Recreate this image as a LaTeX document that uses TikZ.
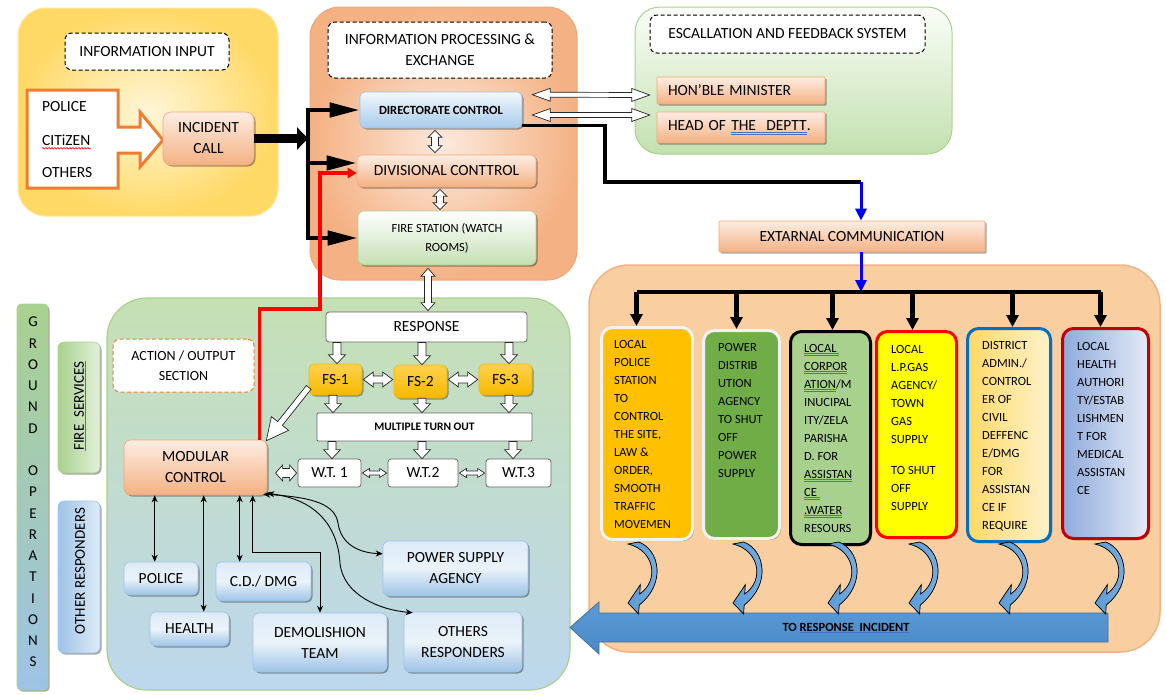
\documentclass[tikz,border=0pt]{standalone}
\usepackage{fontspec}
\setmainfont{Carlito}
\usetikzlibrary{calc,arrows.meta,shadows,decorations.pathmorphing}
\definecolor{ulblue}{HTML}{4472C4}
\definecolor{inLight}{HTML}{FFF6D9}
\definecolor{inDark}{HTML}{FFD966}
\definecolor{inEdge}{HTML}{FFE699}
\definecolor{prLight}{HTML}{FCE9DC}
\definecolor{prDark}{HTML}{F4B183}
\definecolor{prEdge}{HTML}{EFA77A}
\definecolor{esLight}{HTML}{FAFDF8}
\definecolor{esDark}{HTML}{C3E0AE}
\definecolor{grEdge}{HTML}{A9D18E}
\definecolor{orLight}{HTML}{FDEDE3}
\definecolor{orDark}{HTML}{F4B183}
\definecolor{orEdge}{HTML}{F1A878}
\definecolor{dirLight}{HTML}{F2F7FC}
\definecolor{dirDark}{HTML}{A8CBEB}
\definecolor{blEdge}{HTML}{9DC3E6}
\definecolor{gbDark}{HTML}{C5E0B4}
\definecolor{fsLight}{HTML}{FFD24D}
\definecolor{fsDark}{HTML}{F5B800}
\definecolor{rpFill}{HTML}{F9CFA2}
\definecolor{rpEdge}{HTML}{F4B183}
\definecolor{actTop}{HTML}{C5E0B4}
\definecolor{actBot}{HTML}{BDD7EE}
\definecolor{gsTop}{HTML}{A9D18E}
\definecolor{gsBot}{HTML}{9DC3E6}
\definecolor{arrOr}{HTML}{ED7D31}
\definecolor{cvBlue}{HTML}{5B9BD5}
\definecolor{cvLight}{HTML}{7FB2E3}
\definecolor{baTop}{HTML}{5B9BD5}
\definecolor{baMid}{HTML}{86B4E3}
\definecolor{baBot}{HTML}{4A88C8}
\definecolor{baEdge}{HTML}{41719C}
\definecolor{bOne}{HTML}{FFC000}
\definecolor{bTwo}{HTML}{70AD47}
\definecolor{bThree}{HTML}{A9D18E}
\definecolor{bFour}{HTML}{FFFF00}
\definecolor{bFourEdge}{HTML}{FF0000}
\definecolor{bFiveEdge}{HTML}{0070C0}
\definecolor{bFiveA}{HTML}{FFD966}
\definecolor{bFiveB}{HTML}{FFF2CC}
\definecolor{bSixEdge}{HTML}{C00000}
\definecolor{bSixA}{HTML}{8FAADC}
\definecolor{bSixB}{HTML}{E4EAF6}
\definecolor{boxWhite}{HTML}{F2F2F2}
\definecolor{bbTop}{HTML}{DDEBF7}
\definecolor{bbBot}{HTML}{9DC3E6}
\definecolor{fsvA}{HTML}{A9D18E}
\definecolor{fsvB}{HTML}{E2F0D9}
\definecolor{orA}{HTML}{9DC3E6}
\definecolor{orB}{HTML}{DEEBF7}

\newcommand\bul[1]{{\color{ulblue}$\underline{\hbox{\color{black}#1}}$}}
\newcommand\bbul[1]{{\color{ulblue}$\underline{\underline{\hbox{\color{black}#1}}}$}}

% hollow single arrow: from, to, shaft half width, head half width, head length
\newcommand\hollowarr[5]{%
  \coordinate (hA) at (#1);
  \coordinate (hB) at (#2);
  \coordinate (hC) at ($(hB)!#5!(hA)$);
  \filldraw[hollow] ($(hA)!#3!90:(hB)$) -- ($(hC)!#3!-90:(hA)$) -- ($(hC)!#4!-90:(hA)$) -- (hB)
    -- ($(hC)!#4!90:(hA)$) -- ($(hC)!#3!90:(hA)$) -- ($(hA)!#3!-90:(hB)$) -- cycle;}
% hollow double arrow
\newcommand\hollowdarr[5]{%
  \coordinate (hA) at (#1);
  \coordinate (hB) at (#2);
  \coordinate (hCa) at ($(hA)!#5!(hB)$);
  \coordinate (hCb) at ($(hB)!#5!(hA)$);
  \filldraw[hollow] (hA) -- ($(hCa)!#4!90:(hB)$) -- ($(hCa)!#3!90:(hB)$) -- ($(hCb)!#3!-90:(hA)$)
    -- ($(hCb)!#4!-90:(hA)$) -- (hB) -- ($(hCb)!#4!90:(hA)$) -- ($(hCb)!#3!90:(hA)$)
    -- ($(hCa)!#3!-90:(hB)$) -- ($(hCa)!#4!-90:(hB)$) -- cycle;}

\tikzset{
  shadowed/.style={drop shadow={shadow xshift=1.5pt,shadow yshift=-1.5pt,opacity=0.35,fill=black}},
  panel/.style={rounded corners=#1, inner sep=0pt, line width=1pt},
  hdr/.style={draw=black, dash pattern=on 4pt off 2.5pt, line width=1pt, rounded corners=7pt, fill=white, align=center, inner sep=0pt},
  obox/.style={draw=orEdge, line width=0.6pt, rounded corners=5pt, top color=orLight, bottom color=orDark, shadowed, align=center, inner sep=0pt},
  dirbox/.style={draw=blEdge, line width=0.6pt, rounded corners=5pt, top color=dirLight, bottom color=dirDark, shadowed, align=center, inner sep=0pt},
  gbox/.style={draw=grEdge, line width=0.6pt, rounded corners=6pt, top color=white, bottom color=gbDark, shadowed, align=center, inner sep=0pt},
  bbox/.style={draw=blEdge, line width=0.6pt, rounded corners=6pt, top color=bbTop, bottom color=bbBot, middle color=bbTop!60!white, shadowed, align=center, inner sep=0pt},
  wbox/.style={draw=black!60, fill=white, line width=0.8pt, rounded corners=3pt, inner sep=0pt},
  fsbox/.style={draw=fsDark, line width=0.6pt, top color=fsLight, bottom color=fsDark, rounded corners=5pt, shadowed, inner sep=0pt},
  rbox/.style={rounded corners=11pt, line width=3pt, inner sep=0pt, shadowed},
  rtext/.style={inner sep=0pt, anchor=base west, font=\fontsize{12.5}{18}\selectfont},
  hollow/.style={fill=white, draw=black!85, line width=0.7pt, line join=miter},
  bigline/.style={line width=4.5pt, line join=miter, {Triangle[width=14pt,length=30pt]}-{Triangle[width=14pt,length=30pt]}},
  bigarr/.style={line width=4.5pt, -{Triangle[width=14pt,length=30pt]}},
  incarr/.style={line width=9pt, -{Triangle[width=22pt,length=11pt]}},
  droparr/.style={line width=4.5pt, -{Triangle[width=12pt,length=12pt]}},
  bluearr/.style={draw=blue, line width=3pt, -{Triangle[width=11pt,length=12pt]}},
  redarr/.style={draw=red, line width=3.5pt, line join=miter, -{Triangle[width=10pt,length=9pt]}},
  tconn/.style={line width=0.9pt, {Stealth[length=7pt,width=6pt]}-{Stealth[length=7pt,width=6pt]}},
  curv/.pic={\filldraw[left color=cvBlue, right color=cvLight, draw=black, line width=0.7pt, line join=miter]
     (0,2) -- (10.7,0) .. controls (32,8) and (38,42) .. (11.2,63) -- (10.6,72) -- (0,61) -- (12.3,42.7)
     -- (11.7,52) .. controls (32,38) and (26,8) .. (0,2) -- cycle;}
}

\begin{document}
\begin{tikzpicture}[x=1pt,y=-1pt,font=\fontsize{15.5}{21}\selectfont]
\useasboundingbox (0,0) rectangle (1166,694);

% ---------- panels ----------
\node[panel=28pt, inner color=inLight, outer color=inDark, draw=inEdge, minimum width=260pt, minimum height=208pt] (inpanel) at (148,112) {};
\node[panel=30pt, inner color=prLight, outer color=prDark, draw=prEdge, minimum width=267pt, minimum height=273pt] (prpanel) at (443.5,143.5) {};
\node[panel=25pt, top color=esLight, bottom color=esDark, draw=grEdge, minimum width=317pt, minimum height=147pt] (espanel) at (793.5,80.5) {};
\node[panel=40pt, fill=rpFill, draw=rpEdge, line width=1.5pt, minimum width=571pt, minimum height=387pt] (rpanel) at (874.5,458.5) {};
\node[panel=40pt, top color=actTop, bottom color=actBot, draw=grEdge, line width=1.2pt, minimum width=463pt, minimum height=392pt] (actpanel) at (338.5,494) {};
\node[rounded corners=4pt, top color=gsTop, bottom color=gsBot, draw=grEdge, line width=0.6pt, minimum width=31pt, minimum height=386pt, shadowed] (gstrip) at (32.5,497) {};
\node[rounded corners=6pt, left color=fsvA, right color=fsvB, draw=grEdge, line width=0.6pt, minimum width=42pt, minimum height=131pt, shadowed] (fsv) at (79,407.5) {};
\node[rounded corners=6pt, left color=orA, right color=orB, draw=blEdge, line width=0.6pt, minimum width=42pt, minimum height=152pt, shadowed] (orsp) at (79,577) {};

% ---------- information input ----------
\node[hdr, minimum width=164pt, minimum height=37pt] (inhdr) at (147,51.5) {INFORMATION INPUT};
\draw[draw=arrOr, line width=3pt, fill=white, line join=miter]
  (27,90) -- (118,90) -- (118,127) -- (140,127) -- (140,112) -- (163,140) -- (140,167) -- (140,153) -- (118,153) -- (118,188) -- (27,188) -- cycle;
\node[anchor=west, inner sep=0pt] (pol) at (42,107) {POLICE};
\node[anchor=west, inner sep=0pt] (cit) at (42,140) {CITiZEN};
\node[anchor=west, inner sep=0pt] (oth) at (42,173) {OTHERS};
\draw[red, line width=0.6pt, decorate, decoration={snake, amplitude=0.7pt, segment length=3pt}]
  ($(cit.base west)+(0,3)$) -- ($(cit.base east)+(0,3)$);
\node[obox, rounded corners=8pt, minimum width=91pt, minimum height=53pt] (inc) at (208.5,138.5) {INCIDENT\\CALL};

% ---------- processing ----------
\node[hdr, minimum width=224pt, minimum height=56pt] (prhdr) at (440,50) {INFORMATION PROCESSING \&\\EXCHANGE};
\node[dirbox, minimum width=162pt, minimum height=36pt, font=\bfseries\fontsize{12.5}{15}\selectfont] (dir) at (441,110) {DIRECTORATE CONTROL};
\node[obox, minimum width=179pt, minimum height=32pt] (div) at (446.5,171) {DIVISIONAL CONTTROL};
\node[gbox, minimum width=178pt, minimum height=54pt, font=\fontsize{12.5}{19}\selectfont] (fst) at (447,238) {FIRE STATION (WATCH\\ROOMS)};

% ---------- escalation ----------
\node[hdr, minimum width=275pt, minimum height=38pt] (eshdr) at (787.5,34) {ESCALLATION AND FEEDBACK SYSTEM};
\node[obox, rounded corners=1pt, minimum width=168pt, minimum height=27pt, text width=146pt, align=left] (hon) at (741,90.5) {HON’BLE MINISTER};
\node[obox, rounded corners=1pt, minimum width=168pt, minimum height=31pt, text width=146pt, align=left] (head) at (741,127.5) {HEAD OF \bbul{THE\ \ DEPTT}.};
\node[obox, rounded corners=1pt, minimum width=266pt, minimum height=31pt] (ext) at (852,236.5) {EXTARNAL COMMUNICATION};

% ---------- external agencies ----------
\node[rbox, fill=bOne, draw=boxWhite, minimum width=91pt, minimum height=212pt, anchor=north west] (b1) at (600,326) {};
\node[rbox, fill=bTwo, draw=boxWhite, minimum width=76pt, minimum height=208pt, anchor=north west] (b2) at (702,329) {};
\node[rbox, fill=bThree, draw=black, minimum width=80pt, minimum height=213pt, anchor=north west] (b3) at (789,330) {};
\node[rbox, fill=bFour, draw=bFourEdge, minimum width=80pt, minimum height=206pt, anchor=north west] (b4) at (875,330) {};
\node[rbox, left color=bFiveA, right color=bFiveB, draw=bFiveEdge, minimum width=83pt, minimum height=213pt, anchor=north west] (b5) at (966,327) {};
\node[rbox, left color=bSixA, right color=bSixB, draw=bSixEdge, minimum width=86pt, minimum height=210pt, anchor=north west] (b6) at (1061,327) {};

\node[rtext] (b1t) at (614,348) {\parbox[t]{80pt}{\raggedright LOCAL\\POLICE\\STATION\\TO\\CONTROL\\THE SITE,\\LAW \&\\ORDER,\\SMOOTH\\TRAFFIC\\MOVEMEN}};
\node[rtext] (b2t) at (718,351) {\parbox[t]{80pt}{\raggedright POWER\\DISTRIB\\UTION\\AGENCY\\TO SHUT\\OFF\\POWER\\SUPPLY}};
\node[rtext] (b3t) at (804,352) {\parbox[t]{80pt}{\raggedright\leavevmode\bbul{LOCAL\ }\\\bbul{CORPOR}\\\bbul{ATION}/M\\INUCIPAL\\ITY/ZELA\\PARISHA\\D. FOR\\\bbul{ASSISTAN}\\\bbul{CE\ }\\\bbul{.WATER}\\RESOURS}};
\node[rtext] (b4t) at (891,353) {\parbox[t]{80pt}{\raggedright LOCAL\\L.P.GAS\\AGENCY/\\TOWN\\GAS\\SUPPLY\\[13pt]TO SHUT\\OFF\\SUPPLY}};
\node[rtext] (b5t) at (982,349) {\parbox[t]{80pt}{\raggedright DISTRICT\\ADMIN./\\CONTROL\\ER OF\\CIVIL\\DEFFENC\\E/DMG\\FOR\\ASSISTAN\\CE IF\\REQUIRE}};
\node[rtext] (b6t) at (1077,350) {\parbox[t]{80pt}{\raggedright LOCAL\\HEALTH\\AUTHORI\\TY/ESTAB\\LISHMEN\\T FOR\\MEDICAL\\ASSISTAN\\CE}};

% big return arrow
\shadedraw[top color=baTop, middle color=baMid, bottom color=baBot, draw=baEdge, line width=0.8pt]
  (1108,613) -- (599,613) -- (599,602) -- (570,627.5) -- (599,654) -- (599,642) -- (1108,642) -- cycle;
\node[inner sep=0pt, font=\bfseries\fontsize{12.5}{15}\selectfont] (toresp) at (846,628) {TO \bul{RESPONSE\ \ INCIDENT}};
\foreach \xx in {628,733,828,909,999,1095} \pic at (\xx,542) {curv};

% ---------- ground operations ----------
\node[align=center, inner sep=0pt, font=\fontsize{15}{21.25}\selectfont] (gtext) at (33,492)
  {G\\R\\O\\U\\N\\D\\[21.25pt]O\\P\\E\\R\\A\\T\\I\\O\\N\\S};
\node[rotate=90, inner sep=0pt, font=\fontsize{15}{18}\selectfont] (fsvt) at (80,406) {\bul{FIRE\ \ SERVICES}};
\node[rotate=90, inner sep=0pt, font=\fontsize{15}{18}\selectfont] (orspt) at (80,571) {OTHER RESPONDERS};

% ---------- action / output ----------
\node[hdr, draw=arrOr, minimum width=141pt, minimum height=53pt, font=\fontsize{14}{20}\selectfont] (acthdr) at (183.5,365.5) {ACTION / OUTPUT\\SECTION};
\node[wbox, minimum width=201pt, minimum height=30pt] (resp) at (426.5,327) {RESPONSE};
\node[fsbox, minimum width=53pt, minimum height=31pt] (fs1) at (335.5,379.5) {FS-1};
\node[fsbox, minimum width=53pt, minimum height=33pt] (fs2) at (420.5,381.5) {FS-2};
\node[fsbox, minimum width=53pt, minimum height=31pt] (fs3) at (505.5,379.5) {FS-3};
\node[wbox, rounded corners=1pt, minimum width=215pt, minimum height=28pt, font=\bfseries\fontsize{11.5}{14}\selectfont] (mto) at (424.5,427) {MULTIPLE TURN OUT};
\node[wbox, minimum width=63pt, minimum height=28pt] (wt1) at (329.5,473) {W.T. 1};
\node[wbox, minimum width=70pt, minimum height=28pt] (wt2) at (423,473) {W.T.2};
\node[wbox, minimum width=65pt, minimum height=28pt] (wt3) at (518.5,473) {W.T.3};
\node[obox, rounded corners=7pt, minimum width=143pt, minimum height=55pt] (mod) at (195.5,467.5) {MODULAR\\CONTROL};

\node[bbox, minimum width=74pt, minimum height=33pt] (police) at (161,578.5) {POLICE};
\node[bbox, minimum width=79pt, minimum height=34pt] (health) at (189.5,629) {HEALTH};
\node[bbox, minimum width=95pt, minimum height=39pt] (cd) at (263.5,581.5) {C.D./ DMG};
\node[bbox, minimum width=134pt, minimum height=59pt] (demo) at (320,642.5) {DEMOLISHION\\TEAM};
\node[bbox, minimum width=145pt, minimum height=55pt] (power) at (455.5,568.5) {POWER SUPPLY\\AGENCY};
\node[bbox, minimum width=118pt, minimum height=60pt] (others) at (463,642) {OTHERS\\RESPONDERS};

% ---------- connectors ----------
\coordinate (bx) at (308,140);
\draw[incarr] (inc.east) -- (inc.east -| bx);
\draw[bigline] (dir.west) -- (bx |- dir.west) -- (bx |- fst.west) -- (fst.west);
\coordinate (divb) at ($(div.west)+(0,-8)$);
\draw[bigarr] (bx |- divb) -- (divb);

\coordinate (rj) at (320,309);
\draw[redarr] ($(mod.north east)+(-8,0)$) |- (rj) |- ($(div.west)+(0,2)$);

\hollowdarr{$(dir.south)+(-6,2)$}{$(div.north -| dir.south)+(-6,-2)$}{3.5pt}{7pt}{7pt}
\hollowdarr{$(div.south)+(-6.5,2)$}{$(fst.north -| div.south)+(-6.5,-1)$}{3.5pt}{7pt}{7pt}
\hollowdarr{$(fst.south -| resp.north)+(1.5,3)$}{$(resp.north)+(1.5,-1)$}{3.5pt}{7pt}{8pt}

\hollowdarr{$(dir.north east)+(10,3)$}{$(hon.west)+(-7,4.5)$}{2.5pt}{6.5pt}{18pt}
\hollowdarr{$(dir.east)+(10,5)$}{$(head.west)+(-7,-12.5)$}{2.5pt}{6.5pt}{18pt}

\coordinate (j0) at (605,182);
\coordinate (j1) at (861,182);
\draw[line width=3.5pt, line join=miter] ($(dir.south east)+(0,-3)$) -| (j0) -- (j1);
\draw[bluearr] (j1) -- (j1 |- ext.north);
\coordinate (hb) at (861,292);
\draw[bluearr] (hb |- ext.south) -- (hb);
\foreach \i/\dx in {1/-10.5,2/-5,3/2,4/-4,5/3.5,6/-5} {\coordinate (d\i) at ($(b\i.north)+(\dx,0)$);}
\draw[line width=4.5pt] (d1 |- hb) -- (d6 |- hb);
\foreach \i in {1,...,6} {\draw[droparr] (d\i |- hb) -- (d\i);}

\hollowarr{$(resp.south -| fs1.north)+(1.5,0)$}{$(fs1.north)+(1.5,0)$}{4pt}{8.5pt}{9pt}
\hollowarr{$(resp.south -| fs2.north)+(1.5,0)$}{$(fs2.north)+(1.5,0)$}{4pt}{8.5pt}{9pt}
\hollowarr{$(resp.south -| fs3.north)+(3.5,0)$}{$(fs3.north)+(3.5,0)$}{4pt}{8.5pt}{9pt}
\hollowarr{$(fs1.south)+(-2.5,0)$}{$(mto.north -| fs1.south)+(-2.5,0)$}{4pt}{8.5pt}{9pt}
\hollowarr{$(fs2.south)+(1.5,0)$}{$(mto.north -| fs2.south)+(1.5,0)$}{4pt}{8.5pt}{9pt}
\hollowarr{$(fs3.south)+(3.5,0)$}{$(mto.north -| fs3.south)+(3.5,0)$}{4pt}{8.5pt}{9pt}
\hollowarr{$(mto.south -| wt1.north)+(2.5,0)$}{$(wt1.north)+(2.5,0)$}{4pt}{8.5pt}{9pt}
\hollowarr{$(mto.south -| wt2.north)+(-1,0)$}{$(wt2.north)+(-1,0)$}{4pt}{8.5pt}{9pt}
\hollowarr{$(mto.south -| wt3.north)+(-5.5,0)$}{$(wt3.north)+(-5.5,0)$}{4pt}{8.5pt}{9pt}
\hollowdarr{$(fs1.east)+(1,0)$}{$(fs2.west |- fs1.east)+(-1,0)$}{3.5pt}{7.5pt}{10pt}
\hollowdarr{$(fs2.east |- fs3.west)+(1,0)$}{$(fs3.west)+(-1,0)$}{3.5pt}{7.5pt}{10pt}
\hollowdarr{$(wt1.east)+(1,0)$}{$(wt2.west)+(-1,0)$}{2pt}{4.5pt}{7pt}
\hollowdarr{$(wt2.east)+(1,0)$}{$(wt3.west)+(-1,0)$}{2pt}{4.5pt}{7pt}
\hollowdarr{$(wt1.west)+(-22,0)$}{$(wt1.west)+(-1,0)$}{4.5pt}{8pt}{7pt}
\hollowarr{$(fs1.west)!0.5!(fs1.south west)$}{$(mod.north east)+(-1,1)$}{3pt}{11pt}{22pt}

\coordinate (m1) at ($(mod.south west)+(31,0)$);
\coordinate (m2) at ($(mod.south west)+(80,0)$);
\coordinate (m3) at ($(mod.south west)+(116,0)$);
\coordinate (m4) at ($(mod.south west)+(129,0)$);
\coordinate (dj) at ($(demo.north)+(0,-60)$);
\draw[tconn] (m1) -- (m1 |- police.north);
\draw[tconn] (m2) -- (m2 |- health.north);
\draw[tconn] (m3) -- (m3 |- cd.north);
\draw[tconn] (m4) |- (dj) -- (demo.north);
\draw[tconn] ($(mod.south east)+(-4,-1)$) .. controls (315,497) and (335,505) .. (338,523)
   .. controls (341,545) and (360,553) .. ($(power.north west)+(0,13)$);
\draw[tconn] ($(mod.south east)+(0,-2)$) .. controls (320,500) and (338,530) .. (340,563)
   .. controls (343,595) and (380,610) .. ($(others.north west)+(9,1)$);
\end{tikzpicture}
\end{document}
